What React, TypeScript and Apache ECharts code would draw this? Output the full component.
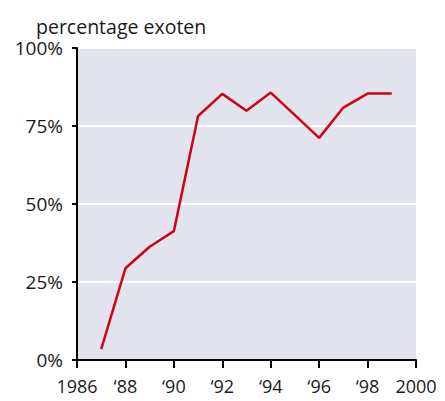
import React, { useEffect, useRef } from "react";
import * as echarts from "echarts";

const years = [1987, 1988, 1989, 1990, 1991, 1992, 1993, 1994, 1995, 1996, 1997, 1998, 1999];
const percentages = [3.5, 29.4, 36.3, 41.3, 78.2, 85.3, 79.9, 85.7, 78.5, 71.2, 80.9, 85.4, 85.4];
const yTicks = [0, 25, 50, 75, 100];
const titleText = "percentage exoten";

const FONT = "'Open Sans', Lato, sans-serif";

export default function App() {
  const ref = useRef<HTMLDivElement>(null);
  useEffect(() => {
    if (!ref.current) return;
    const chart = echarts.init(ref.current, undefined, { renderer: "svg" });
    chart.setOption({
      animation: false,
      backgroundColor: "#ffffff",
      title: {
        text: titleText,
        left: 31,
        top: 11,
        textStyle: { fontFamily: FONT, fontSize: 19.5, fontWeight: "normal", color: "#1a1a1a" },
      },
      grid: {
        left: 77,
        right: 29,
        top: 48,
        bottom: 41,
        show: true,
        backgroundColor: "#e1e4ec",
        borderWidth: 0,
      },
      xAxis: {
        type: "value",
        min: 1986,
        max: 2000,
        interval: 2,
        axisLine: { show: true, lineStyle: { color: "#000", width: 2 } },
        axisTick: { show: true, length: 8, lineStyle: { color: "#000", width: 2 } },
        splitLine: { show: false },
        axisLabel: {
          margin: 17,
          fontFamily: FONT,
          fontSize: 18,
          color: "#1a1a1a",
          formatter: (v: number) => (v === 1986 || v === 2000 ? String(v) : "\u2018" + String(v).slice(2)),
        },
      },
      yAxis: {
        type: "value",
        min: yTicks[0],
        max: yTicks[yTicks.length - 1],
        interval: 25,
        axisLine: { show: true, lineStyle: { color: "#000", width: 2 } },
        axisTick: { show: true, length: 5, lineStyle: { color: "#000", width: 2 } },
        splitLine: { show: true, lineStyle: { color: "#ffffff", width: 2 } },
        axisLabel: {
          margin: 14,
          fontFamily: FONT,
          fontSize: 19,
          color: "#1a1a1a",
          formatter: (v: number) => v + "%",
        },
      },
      series: [
        {
          type: "line",
          data: years.map((y, i) => [y, percentages[i]]),
          symbol: "none",
          lineStyle: { color: "#d0021b", width: 2.5 },
          z: 5,
        },
      ],
    });
    return () => chart.dispose();
  }, []);
  return <div ref={ref} style={{ width: 445, height: 401, position: "absolute", left: 0, top: 0 }} />;
}
